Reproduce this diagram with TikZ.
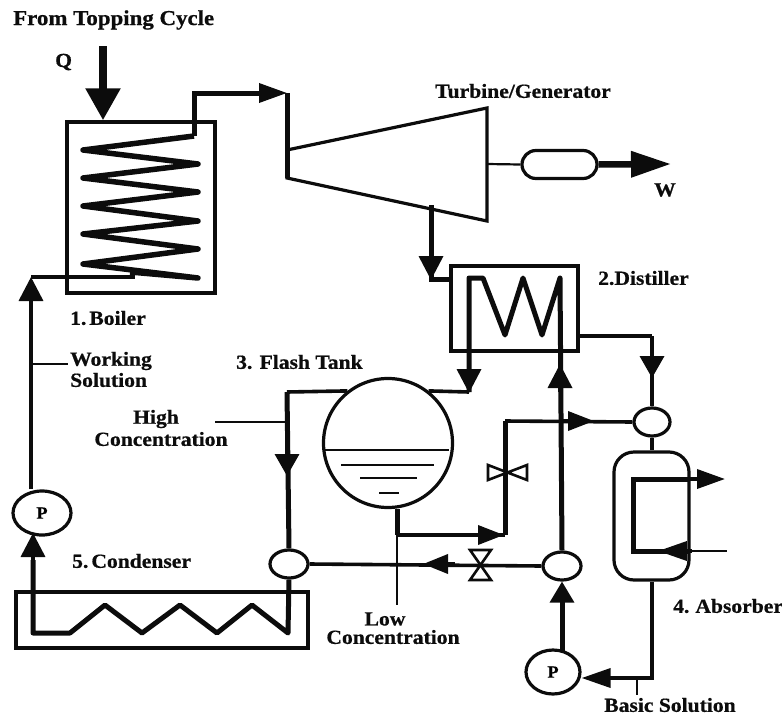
\documentclass[tikz,border=0pt]{standalone}
\usepackage{fontspec}
\setmainfont[FakeStretch=1.08,BoldFeatures={FakeBold=0.7}]{Liberation Serif}
\usetikzlibrary{shapes.geometric,arrows.meta}
\definecolor{ink}{HTML}{0C0C0C}
\tikzset{
  pipe/.style={draw=ink,line width=5pt,line join=miter},
  thinpipe/.style={draw=ink,line width=3.6pt,line join=miter},
  hair/.style={draw=ink,line width=2.2pt},
  shell/.style={draw=ink,line width=3.2pt,line join=miter},
  flow/.style={draw=ink,line width=3.6pt,-{Triangle[length=#1,width=24pt,fill=ink]}},
  flow/.default=24pt,
  hflow/.style={draw=ink,line width=3.6pt,-{Triangle[length=#1,width=19pt,fill=ink]}},
  lbl/.style={text=ink,font=\fontsize{20}{22}\selectfont\bfseries,inner sep=0pt,anchor=west},
  clbl/.style={text=ink,font=\fontsize{20}{22}\selectfont\bfseries,inner sep=0pt,anchor=center},
  vessel/.style={ellipse,draw=ink,line width=3.2pt,fill=white,inner sep=0pt},
  valve/.style={draw=ink,line width=2.6pt,fill=white,line join=miter}
}
\begin{document}
\begin{tikzpicture}[x=1pt,y=-1pt]
\useasboundingbox (0,0) rectangle (782,718);
% equipment nodes
\node[shell,rectangle,minimum width=148pt,minimum height=171pt,inner sep=0pt] (boiler) at (141,207.5) {};
\node[shell,rectangle,minimum width=127pt,minimum height=85pt,inner sep=0pt] (distiller) at (514.5,308.5) {};
\node[shell,rectangle,minimum width=292pt,minimum height=56pt,inner sep=0pt] (condenser) at (162,620) {};
\node[shell,rectangle,rounded corners=20pt,minimum width=75pt,minimum height=128pt,inner sep=0pt] (absorber) at (651.5,516) {};
\node[vessel,circle,minimum size=129pt] (tank) at (388,443) {};
\node[shell,rectangle,rounded corners=14pt,minimum width=75pt,minimum height=28pt,inner sep=0pt] (generator) at (559.5,164.5) {};
\node[vessel,minimum width=58pt,minimum height=44pt] (pumpL) at (42,513) {\fontsize{17}{17}\selectfont\bfseries P};
\node[vessel,minimum width=54pt,minimum height=44pt] (pumpR) at (553,672) {\fontsize{17}{17}\selectfont\bfseries P};
\node[vessel,minimum width=38pt,minimum height=28pt] (mixL) at (289,564) {};
\node[vessel,minimum width=38pt,minimum height=28pt] (mixM) at (562,566) {};
\node[vessel,minimum width=36pt,minimum height=28pt] (mixR) at (652,422) {};
% turbine
\coordinate (tTL) at (287,150);
\coordinate (tBL) at (287,178);
\coordinate (tTR) at (487,108);
\coordinate (tBR) at (487,221);
\draw[shell] (tTL) -- (tTR) -- (tBR) -- (tBL) -- cycle;
% heat input
\coordinate (qTop) at (103,46);
\draw[draw=ink,line width=8pt,-{Triangle[length=32pt,width=33pt,fill=ink]}] (qTop) -- (boiler.north -| qTop);
% boiler coil
\coordinate (bIn) at (31,277);
\coordinate (bOutTop) at (194,93);
\coordinate (bCorner) at (287,93);
\draw[thinpipe] (bIn) -- (135,277);
\draw[pipe,line width=5.5pt,line join=round] (130,272) -- (198,278) -- (83,264) -- (198,249) -- (83,234) -- (198,221) -- (83,206) -- (198,192) -- (83,178) -- (198,164) -- (83,150) -- (194,136);
\draw[pipe] (194,136) -- (bOutTop) -- (260,93);
\draw[hflow=28pt] (258,93) -- (287,93);
\draw[pipe] (bCorner) -- (tBL);
% shaft and work
\coordinate (shaft) at (487,164);
\coordinate (wTip) at (671,164);
\draw[hair] (shaft) -- (generator.west);
\draw[draw=ink,line width=6.5pt,-{Triangle[length=40pt,width=25pt,fill=ink]}] (generator.east) -- (wTip);
% exhaust to distiller
\coordinate (exTop) at (431,205);
\coordinate (exLow) at (431,279);
\draw[pipe] (exTop) -- (exLow) -- (distiller.west |- exLow);
\draw[flow=24pt] (431,250) -- (431,280);
% distiller coil
\coordinate (dcL) at (469,278);
\coordinate (dcR) at (560,278);
\coordinate (dcLow) at (469,392);
\draw[pipe,line join=round] (dcLow) -- (dcL) -- (483,278) -- (505,335) -- (523,278) -- (542,335) -- (dcR) -- (mixM.north);
\draw[flow=24pt] (469,365) -- (469,393);
\draw[thinpipe] (dcLow) -- (tank.52);
\draw[flow=24pt] (560,392) -- (560,364);
% high concentration
\coordinate (hcC) at (287,392);
\draw[thinpipe] (tank.128) -- (hcC);
\draw[pipe] (hcC) -- (mixL.north);
\draw[flow=22pt] (287,450) -- (287,476);
\coordinate (hcT) at (215,422);
\draw[hair] (hcT) -- (287,422);
% liquid levels
\draw[hair] (325,450) -- (449,450);
\draw[hair] (341,465) -- (434,465);
\draw[hair] (360,478) -- (417,478);
\draw[hair] (379,493) -- (399,493);
% low concentration
\coordinate (lcJ) at (397,535);
\coordinate (lcE) at (397,605);
\coordinate (lcC) at (505,535);
\coordinate (lcT) at (505,421);
\draw[pipe] (tank.south -| lcJ) -- (lcJ);
\draw[hair] (lcJ) -- (lcE);
\draw[thinpipe] (lcJ) -- (lcC);
\draw[hflow=26pt] (472,535) -- (504,535);
\draw[pipe] (lcC) -- (lcT);
\draw[thinpipe] (lcT) -- (mixR.west);
\draw[hflow=26pt] (563,421) -- (594,421);
% return line
\draw[thinpipe] (mixM.west) -- (mixL.east);
\draw[hflow=25pt] (455,564) -- (423,564);
% valves
\draw[valve] (470,550) -- (491,550) -- (470,580) -- (491,580) -- cycle;
\draw[valve] (488,465) -- (488,480) -- (527,465) -- (527,480) -- cycle;
% distiller to absorber
\coordinate (dOut) at (652,336);
\draw[thinpipe] (distiller.east |- dOut) -- (dOut);
\draw[thinpipe] (dOut) -- (mixR.north);
\draw[flow=22pt] (652,350) -- (652,378);
\draw[thinpipe] (mixR.south) -- (absorber.north -| mixR);
% absorber coil
\coordinate (acT) at (633,479);
\coordinate (acB) at (633,551);
\coordinate (acOut) at (725,479);
\coordinate (acIn) at (727,551);
\draw[pipe] (689,479) -- (acT) -- (acB) -- (689,551);
\draw[hair] (689,551) -- (acIn);
\draw[hair] (689,479) -- (700,479);
\draw[hflow=28pt] (690,479) -- (acOut);
\draw[hflow=29pt] (692,551) -- (658,551);
% absorber to pump
\coordinate (apC) at (652,678);
\coordinate (bsT) at (637,695);
\draw[thinpipe] (absorber.south -| apC) -- (apC) -- (610,678);
\draw[hflow=29pt] (618,678) -- (pumpR.east |- apC);
\draw[hair] (bsT |- apC) -- (bsT);
% pump R to mixer
\draw[pipe] (562,651) -- (562,590);
\draw[flow=21pt] (562,605) -- (mixM.south);
% condenser coil
\coordinate (ccL) at (33,633);
\draw[pipe,line join=round] (mixL.south) -- (288,633) -- (252,605) -- (217,633) -- (180,605) -- (142,633) -- (105,605) -- (70,633) -- (ccL) -- (33,560);
\draw[flow=24pt] (33,562) -- (33,533);
% working solution
\coordinate (wsT) at (68,364);
\draw[thinpipe] (pumpL.north -| bIn) -- (31,295);
\draw[flow=24pt] (31,305) -- (bIn);
\draw[hair] (31,364) -- (wsT);
% labels
\node[lbl,font=\fontsize{21.2}{22}\selectfont\bfseries] (tFrom) at (13,20) {From Topping Cycle};
\node[lbl] (tQ) at (55,62) {Q};
\node[lbl] (tTurb) at (435,91) {Turbine/Generator};
\node[lbl] (tW) at (654,190) {W};
\node[lbl] (tBoil) at (70,318) {1.\kern3pt Boiler};
\node[lbl] (tDist) at (598,278) {2.Distiller};
\node[lbl] (tWork) at (70,361) {Working};
\node[lbl] (tSol) at (70,380) {Solution};
\node[lbl] (tFlash) at (236,362) {3. Flash Tank};
\node[clbl] (tHigh) at (156,419) {High};
\node[clbl] (tHC) at (161,439) {Concentration};
\node[lbl] (tCond) at (72,561) {5.\kern3pt Condenser};
\node[clbl] (tLow) at (385,619) {Low};
\node[clbl] (tLC) at (393,637) {Concentration};
\node[lbl] (tAbs) at (673,606) {4.\kern6pt Absorber};
\node[clbl] (tBasic) at (670,705) {Basic Solution};
\end{tikzpicture}
\end{document}
